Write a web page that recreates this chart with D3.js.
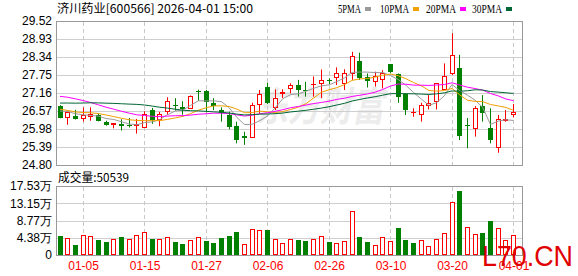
<!DOCTYPE html>
<html><head><meta charset="utf-8">
<script src="https://cdn.jsdelivr.net/npm/d3@7"></script>
<style>body{margin:0;background:#fff}svg{display:block}</style>
</head><body><svg id="c" width="578" height="276"></svg>
<script>
const dates = ["12-29","12-30","12-31","01-05","01-06","01-07","01-08","01-09","01-12","01-13",
"01-14","01-15","01-16","01-19","01-20","01-21","01-22","01-23","01-26","01-27",
"01-28","01-29","01-30","02-02","02-03","02-04","02-05","02-06","02-09","02-10",
"02-11","02-12","02-13","02-24","02-25","02-26","02-27","03-02","03-03","03-04",
"03-05","03-06","03-09","03-10","03-11","03-12","03-13","03-16","03-17","03-18",
"03-19","03-20","03-23","03-24","03-25","03-26","03-27","03-30","03-31","04-01"];
const open = [26.74,26.36,26.42,26.33,26.42,26.45,26.21,26.15,26.15,26.11,
26.12,26.06,26.60,26.30,26.56,26.76,26.71,26.66,27.22,27.23,
26.84,26.60,26.44,26.08,25.74,25.73,26.79,27.35,26.71,27.15,
27.31,27.42,27.25,27.45,27.48,27.60,27.70,27.50,27.83,28.21,
27.70,27.56,27.61,28.11,27.78,27.12,26.53,26.46,26.76,26.90,
27.29,27.83,27.97,26.11,26.00,26.73,26.02,25.38,26.28,26.46];
const high = [26.76,26.56,26.61,26.69,26.69,26.48,26.25,26.17,26.30,26.34,
26.31,26.56,26.67,26.54,27.02,26.99,26.89,27.08,27.27,27.26,
26.99,26.69,26.55,26.22,25.89,26.84,27.26,27.50,27.28,27.28,
27.48,27.59,27.53,27.70,27.93,27.64,28.00,27.94,28.51,28.48,
27.80,27.86,27.91,28.11,27.80,27.14,26.66,26.84,27.09,27.48,
28.13,29.12,28.41,26.34,26.73,27.09,26.66,26.44,26.60,26.80];
const low = [26.33,26.12,26.29,26.22,26.25,26.23,26.09,26.00,25.93,26.03,
25.83,26.01,26.15,26.07,26.45,26.58,26.45,26.65,26.90,26.52,
26.60,26.22,25.97,25.51,25.46,25.71,26.49,26.80,26.60,26.99,
27.15,27.04,27.04,27.04,26.99,27.45,27.42,27.26,27.59,27.59,
27.34,27.37,27.31,27.82,26.84,26.44,26.38,26.22,26.62,26.62,
27.26,27.75,25.62,25.35,25.73,26.22,25.51,25.20,26.22,26.36];
const close = [26.35,26.53,26.32,26.45,26.47,26.25,26.12,26.17,26.08,26.09,
26.13,26.48,26.29,26.46,26.89,26.73,26.64,27.06,27.20,26.88,
26.73,26.52,26.06,25.62,25.70,26.77,27.12,26.82,26.99,27.18,
27.42,27.26,27.23,27.47,27.59,27.58,27.80,27.83,28.37,27.66,
27.56,27.73,27.83,27.86,27.04,26.60,26.55,26.77,26.82,27.48,
27.72,28.41,25.75,26.09,26.66,26.52,25.62,26.30,26.32,26.54];
const volume = [48300,43200,25400,50000,48300,38900,33900,40600,45700,40600,
50800,58400,41500,40600,45700,33000,27900,38100,44900,35500,
30500,43200,48300,58400,27100,66000,63500,63500,40000,31000,
40000,39300,35500,40600,47400,33000,29700,35500,111800,45700,
33000,25400,44900,36000,68600,38100,31300,38100,22900,40600,
55900,134600,163400,71100,53300,55900,86400,68600,38100,50539];
// estimated closes of the 29 sessions before the window (needed for the moving averages)
const priorCloses = [26.50,26.45,26.30,26.25,26.35,26.40,26.38,26.42,26.45,26.40,
27.10,27.35,27.60,27.75,27.80,27.65,27.50,27.40,27.35,27.20,
26.95,26.80,26.65,26.55,26.50,26.60,26.70,26.62,26.58];
const priceTicks = [24.80,25.39,25.98,26.57,27.16,27.75,28.34,28.93,29.52];
const volTicks = [0,43825,87650,131475,175300];
const volTickLabels = ["0","4.38万","8.77万","13.15万","17.53万"];
const tickDates = ["01-05","01-15","01-27","02-06","02-26","03-10","03-20","04-01"];
const maPeriods = [5,10,20,30];
const maNames = ["5PMA","10PMA","20PMA","30PMA"];
const maColors = ["#9a9a9a","#f0a000","#ff00ff","#006633"];
const title = "济川药业[600566] 2026-04-01 15:00";
const volTitle = "成交量:50539";

const RED = "#ff0000", GREEN = "#008000";
const L = 56, R = 522;
const svg = d3.select("#c");
const x = d3.scalePoint().domain(dates).range([60, 513.5]);
const yP = d3.scaleLinear().domain([24.80, 29.52]).range([165, 21]);
const yV = d3.scaleLinear().domain([0, 175300]).range([255, 186]);
const cr = v => Math.round(v) + 0.5;
const fontSans = "'Liberation Sans', Arial, sans-serif";
const fontCJK = "'Noto Sans CJK SC', sans-serif";

// watermark
svg.append("text").attr("x", 256).attr("y", 121).attr("font-family", fontCJK)
  .attr("font-size", 40).attr("font-weight", "bold").attr("font-style", "italic")
  .attr("fill", "#ececec").attr("textLength", 128).attr("lengthAdjust", "spacingAndGlyphs")
  .text("东方财富");

// grids
const g = svg.append("g");
priceTicks.slice(1, -1).forEach(t => {
  g.append("line").attr("x1", L).attr("x2", R).attr("y1", cr(yP(t))).attr("y2", cr(yP(t)))
    .attr("stroke", "#cfcfcf");
});
volTicks.slice(1, -1).forEach(t => {
  g.append("line").attr("x1", L).attr("x2", R).attr("y1", cr(yV(t))).attr("y2", cr(yV(t)))
    .attr("stroke", "#cfcfcf");
});
tickDates.forEach(d => {
  const xx = Math.floor(x(d)) + 0.5;
  [[21, 165], [186, 255]].forEach(([a, b]) => {
    g.append("line").attr("x1", xx).attr("x2", xx).attr("y1", a + 1).attr("y2", b)
      .attr("stroke", "#c8c8c8").attr("stroke-dasharray", "4,3");
  });
});

// candles
const prevClose = i => i === 0 ? priorCloses[priorCloses.length - 1] : close[i - 1];
const cg = svg.append("g");
dates.forEach((d, i) => {
  const p = Math.floor(x(d));
  const up = close[i] > open[i] || (close[i] === open[i] && close[i] >= prevClose(i));
  const col = up ? RED : GREEN;
  cg.append("line").attr("x1", p + 0.5).attr("x2", p + 0.5)
    .attr("y1", yP(high[i])).attr("y2", yP(low[i])).attr("stroke", col);
  const yt = yP(Math.max(open[i], close[i])), yb = yP(Math.min(open[i], close[i]));
  if (up) {
    const t = Math.round(yt) + 0.5, b = Math.max(Math.round(yb) + 0.5, t);
    if (b - t < 1) {
      cg.append("line").attr("x1", p - 2).attr("x2", p + 3).attr("y1", t).attr("y2", t).attr("stroke", col);
    } else {
      cg.append("rect").attr("x", p - 1.5).attr("y", t).attr("width", 4).attr("height", b - t)
        .attr("fill", "#fff").attr("stroke", col);
    }
  } else {
    cg.append("rect").attr("x", p - 2).attr("y", Math.round(yt)).attr("width", 5)
      .attr("height", Math.max(Math.round(yb) - Math.round(yt), 1)).attr("fill", col);
  }
});

// moving averages
const allC = priorCloses.concat(close);
const off = priorCloses.length;
maPeriods.forEach((n, k) => {
  const vals = close.map((c, i) => d3.mean(allC.slice(off + i - n + 1, off + i + 1)));
  svg.append("path").datum(vals)
    .attr("d", d3.line().x((v, i) => x(dates[i])).y(v => yP(v)))
    .attr("fill", "none").attr("stroke", maColors[k]).attr("stroke-width", 1);
});

// volume bars
const vg = svg.append("g");
dates.forEach((d, i) => {
  const p = Math.floor(x(d));
  const up = close[i] >= prevClose(i);
  const top = Math.round(yV(volume[i]));
  if (up) {
    vg.append("rect").attr("x", p - 1.5).attr("y", top + 0.5).attr("width", 4).attr("height", 254 - top)
      .attr("fill", "#fff").attr("stroke", RED);
  } else {
    vg.append("rect").attr("x", p - 2).attr("y", top).attr("width", 5).attr("height", 255 - top)
      .attr("fill", GREEN);
  }
});

// borders
[[21, 165], [186, 255]].forEach(([a, b]) => {
  svg.append("rect").attr("x", L + 0.5).attr("y", a + 0.5).attr("width", R - L).attr("height", b - a)
    .attr("fill", "none").attr("stroke", "#999");
});

// axis labels
const yAxisP = d3.axisLeft(yP).tickValues(priceTicks).tickFormat(d3.format(".2f")).tickSize(0).tickPadding(4);
svg.append("g").attr("transform", `translate(${L},0)`).call(yAxisP)
  .call(s => s.select(".domain").remove())
  .selectAll("text").attr("font-family", fontSans).attr("font-size", 12).attr("fill", "#000");
const yAxisV = d3.axisLeft(yV).tickValues(volTicks).tickFormat((d, i) => volTickLabels[i]).tickSize(0).tickPadding(4);
svg.append("g").attr("transform", `translate(${L},0)`).call(yAxisV)
  .call(s => s.select(".domain").remove())
  .selectAll("text").attr("font-family", fontSans).attr("font-size", 12).attr("fill", "#000");
const xAxis = d3.axisBottom(x).tickValues(tickDates).tickSize(0).tickPadding(6);
svg.append("g").attr("transform", "translate(0,255)").call(xAxis)
  .call(s => s.select(".domain").remove())
  .selectAll("text").attr("font-family", fontSans).attr("font-size", 12).attr("fill", RED);

// title & volume title
svg.append("text").attr("x", 57).attr("y", 13).attr("font-family", fontCJK).attr("font-size", 12)
  .attr("fill", "#000").attr("textLength", 196).attr("lengthAdjust", "spacingAndGlyphs").text(title);
svg.append("text").attr("x", 58).attr("y", 182).attr("font-family", fontCJK).attr("font-size", 12)
  .attr("fill", "#000").attr("textLength", 71).attr("lengthAdjust", "spacingAndGlyphs").text(volTitle);

// legend
const legX = [338, 380, 426, 472], legW = [23, 29, 30, 30];
maNames.forEach((nm, k) => {
  svg.append("text").attr("x", legX[k]).attr("y", 13).attr("font-family", "'Liberation Serif', serif")
    .attr("font-size", 12).attr("fill", "#000").attr("textLength", legW[k])
    .attr("lengthAdjust", "spacingAndGlyphs").text(nm);
  svg.append("rect").attr("x", legX[k] + legW[k] + 4).attr("y", 7).attr("width", 6).attr("height", 4)
    .attr("fill", maColors[k]);
});

// site mark
svg.append("text").attr("x", 482).attr("y", 266).attr("font-family", fontSans).attr("font-size", 29)
  .attr("fill", "#e00000").attr("textLength", 91).attr("lengthAdjust", "spacingAndGlyphs").text("L70.CN");
</script></body></html>
